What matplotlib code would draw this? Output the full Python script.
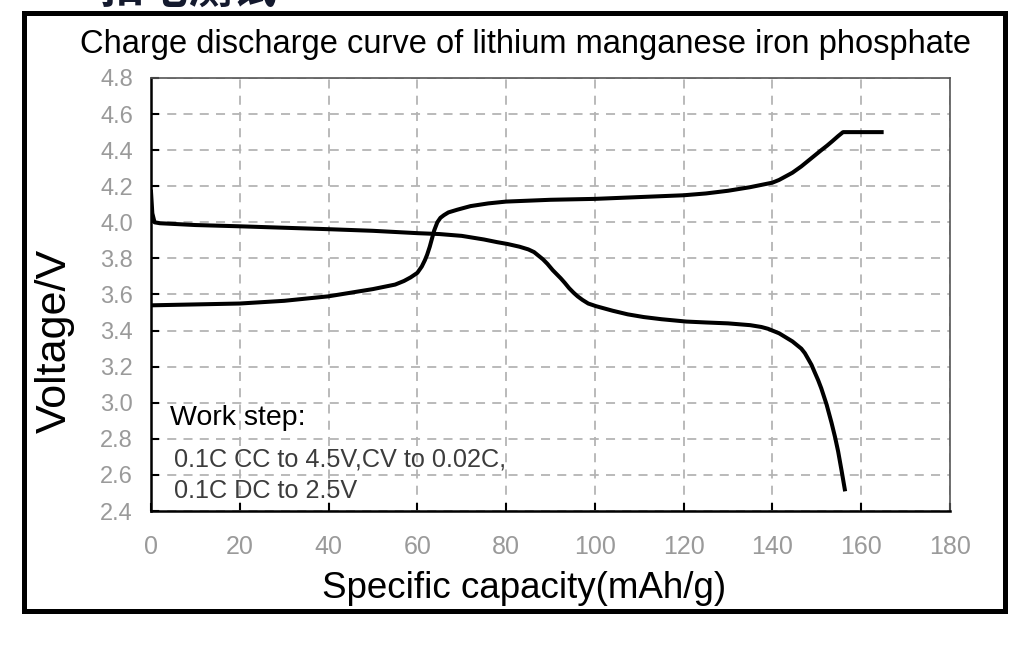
import matplotlib
matplotlib.use("Agg")
import matplotlib.pyplot as plt
from matplotlib.patches import Rectangle

plt.rcParams['font.family'] = ['Liberation Sans', 'Noto Sans CJK SC', 'DejaVu Sans']

# ---- data ----
charge_cap = [0, 10, 20, 30, 40, 45, 50, 55, 57, 58.5, 60, 61, 61.7, 62.2, 62.8, 63.3,
              63.8, 64.5, 65.2, 66.0, 67, 69, 72, 76, 80, 90, 100, 110, 120, 125, 130,
              135, 140, 141.5, 143, 144.5, 146.5, 148, 149.5, 151, 152.3, 153.5, 154.8,
              155.9, 164.6]
charge_volt = [3.54, 3.545, 3.55, 3.565, 3.59, 3.61, 3.63, 3.655, 3.675, 3.695, 3.72,
               3.755, 3.79, 3.82, 3.865, 3.91, 3.955, 4.0, 4.025, 4.04, 4.055, 4.07, 4.09,
               4.105, 4.115, 4.125, 4.13, 4.14, 4.15, 4.16, 4.175, 4.195, 4.22, 4.235,
               4.255, 4.275, 4.31, 4.34, 4.37, 4.4, 4.425, 4.45, 4.478, 4.5, 4.5]

discharge_cap = [0, 0.3, 0.8, 2, 10, 20, 30, 40, 50, 60, 65, 70, 75, 78, 80.3, 83, 85,
                 86.3, 87.3, 88.3, 89.3, 90.5, 91.5, 92.3, 93.2, 94.2, 95.2, 96.1, 97.2,
                 98.5, 100.3, 104, 107.4, 111, 115, 120.6, 125, 130, 135, 137.5, 139,
                 140.5, 141.5, 142.5, 143.5, 144.5, 145.5, 146.5, 147.3, 148, 148.8,
                 149.5, 150.3, 151, 152.2, 153.3, 154.1, 154.8, 155.6, 156.3]
discharge_volt = [4.17, 4.05, 4.0, 3.995, 3.985, 3.978, 3.97, 3.962, 3.953, 3.94, 3.935,
                  3.925, 3.905, 3.89, 3.88, 3.865, 3.85, 3.835, 3.815, 3.795, 3.77, 3.735,
                  3.71, 3.69, 3.665, 3.635, 3.61, 3.59, 3.57, 3.55, 3.535, 3.51, 3.49,
                  3.475, 3.463, 3.45, 3.445, 3.44, 3.43, 3.42, 3.41, 3.395, 3.385, 3.37,
                  3.355, 3.34, 3.32, 3.30, 3.275, 3.245, 3.21, 3.17, 3.125, 3.08, 2.99,
                  2.89, 2.81, 2.73, 2.62, 2.52]

x_ticks = [0, 20, 40, 60, 80, 100, 120, 140, 160, 180]
y_ticks = [2.4, 2.6, 2.8, 3.0, 3.2, 3.4, 3.6, 3.8, 4.0, 4.2, 4.4, 4.6, 4.8]

title = "Charge discharge curve of lithium manganese iron phosphate"
x_label = "Specific capacity(mAh/g)"
y_label = "Voltage/V"
note_head = "Work step:"
note_lines = ["0.1C CC to 4.5V,CV to 0.02C,", "0.1C DC to 2.5V"]
header_cn = "扣电测试"

W, H = 1024, 650
fig = plt.figure(figsize=(W / 100, H / 100), dpi=100)
ax = fig.add_axes([151 / W, 1 - 511 / H, (950 - 151) / W, (511 - 78) / H])

ax.plot(charge_cap, charge_volt, color='black', lw=2.9, solid_joinstyle='round', zorder=3)
ax.plot(discharge_cap, discharge_volt, color='black', lw=2.9, solid_joinstyle='round', zorder=3)

ax.set_xlim(0, 180)
ax.set_ylim(2.4, 4.8)
ax.set_xticks(x_ticks)
ax.set_yticks(y_ticks)
ax.set_xticklabels([str(v) for v in x_ticks])
ax.set_yticklabels([f"{v:.1f}" for v in y_ticks])
ax.grid(True, color='#b4b4b4', linestyle=(0, (5, 4)), lw=1.3, zorder=1)

ax.tick_params(axis='both', direction='in', length=6, width=1.5, color='black',
               labelcolor='#9a9a9a')
ax.tick_params(axis='x', labelsize=18, pad=17)
ax.tick_params(axis='y', labelsize=17, pad=13)
ax.tick_params(top=False, right=False)

for s in ['left', 'bottom']:
    ax.spines[s].set_color('black')
    ax.spines[s].set_linewidth(1.8)
for s in ['top', 'right']:
    ax.spines[s].set_color('#555555')
    ax.spines[s].set_linewidth(1.2)

fig.text(526 / W, 1 - 45 / H, title, ha='center', va='center', fontsize=23.5, color='black')
fig.text(524 / W, 1 - 589 / H, x_label, ha='center', va='center', fontsize=26.5, color='black')
fig.text(55 / W, 1 - 341 / H, y_label, ha='center', va='center', rotation=90,
         fontsize=31, color='black')

fig.text(170 / W, 1 - 418 / H, note_head, ha='left', va='center', fontsize=20.5, color='black')
fig.text(174 / W, 1 - 459 / H, note_lines[0], ha='left', va='center', fontsize=18.2,
         color='#3c3c3c')
fig.text(174 / W, 1 - 491 / H, note_lines[1], ha='left', va='center', fontsize=18.2,
         color='#3c3c3c')

fig.text(100 / W, 1 - 3 / H, header_cn, ha='left', va='baseline', fontsize=32,
         fontweight='bold', color='#141a2e', family=['Noto Sans CJK SC'])

fig.patches.append(Rectangle((24 / W, 1 - 611 / H), (1005 - 24) / W, (611 - 12.5) / H,
                             transform=fig.transFigure, fill=False, ec='black', lw=3.6,
                             zorder=10))

fig.savefig("out.png", dpi=100, facecolor='white')
